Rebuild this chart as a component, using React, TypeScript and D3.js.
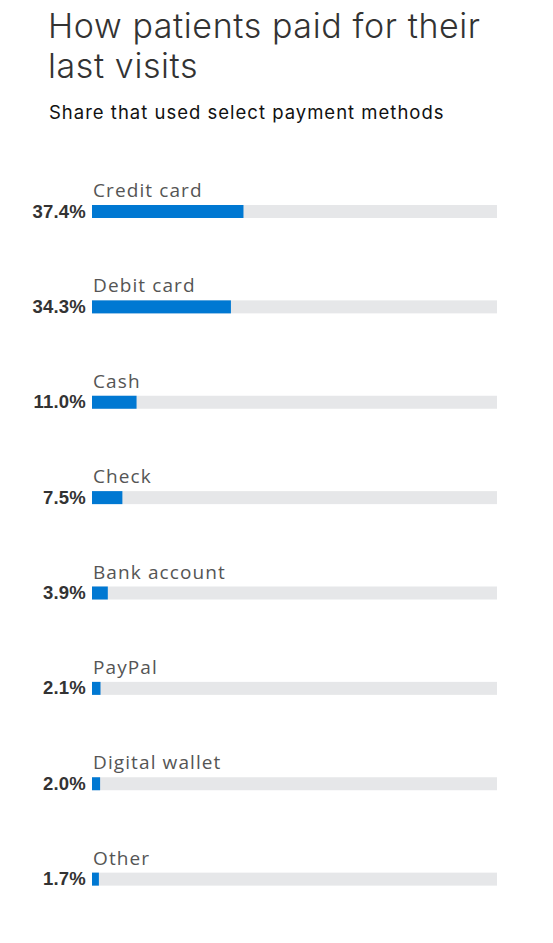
import * as d3 from 'd3';

const width = 553;
const height = 943;

const categories = [
  'Credit card',
  'Debit card',
  'Cash',
  'Check',
  'Bank account',
  'PayPal',
  'Digital wallet',
  'Other',
];
const shares = [37.4, 34.3, 11.0, 7.5, 3.9, 2.1, 2.0, 1.7];

const title = ['How patients paid for their', 'last visits'];
const subtitle = 'Share that used select payment methods';

const plot = { left: 92, right: 497, top: 165, bottom: 928 };
const barHeight = 13;

export default function App() {
  const x = d3.scaleLinear().domain([0, 100]).range([plot.left, plot.right]);
  const y = d3
    .scaleBand<string>()
    .domain(categories)
    .range([plot.top, plot.bottom])
    .paddingInner(0);

  return (
    <svg
      width={width}
      height={height}
      style={{ position: 'absolute', left: 0, top: 0, background: '#fff' }}
    >
      <g fontFamily="Inter, 'Open Sans', sans-serif" fill="#333">
        {title.map((t, i) => (
          <text
            key={t}
            x={48}
            y={38 + i * 40}
            fontSize={34}
            fontWeight={300}
            letterSpacing={0.6}
          >
            {t}
          </text>
        ))}
        <text
          x={49}
          y={119}
          fontSize={18.5}
          fontWeight={400}
          letterSpacing={1}
          fill="#111"
        >
          {subtitle}
        </text>
      </g>
      {categories.map((c, i) => {
        const top = (y(c) ?? 0) + 40;
        return (
          <g key={c}>
            <text
              x={plot.left + 1}
              y={top - 8}
              fontFamily="'Open Sans', sans-serif"
              fontSize={19}
              letterSpacing={1.1}
              fill="#555"
            >
              {c}
            </text>
            <rect
              x={x(0)}
              y={top}
              width={x(100) - x(0)}
              height={barHeight}
              fill="#e6e7e9"
            />
            <rect
              x={x(0)}
              y={top}
              width={x(shares[i]) - x(0)}
              height={barHeight}
              fill="#0078d2"
            />
            <text
              x={plot.left - 6}
              y={top + barHeight - 0.5}
              textAnchor="end"
              fontFamily="'Liberation Sans', Arial, sans-serif"
              fontWeight={700}
              fontSize={18.5}
              letterSpacing={0.2}
              fill="#333"
            >
              {d3.format('.1f')(shares[i])}%
            </text>
          </g>
        );
      })}
    </svg>
  );
}
